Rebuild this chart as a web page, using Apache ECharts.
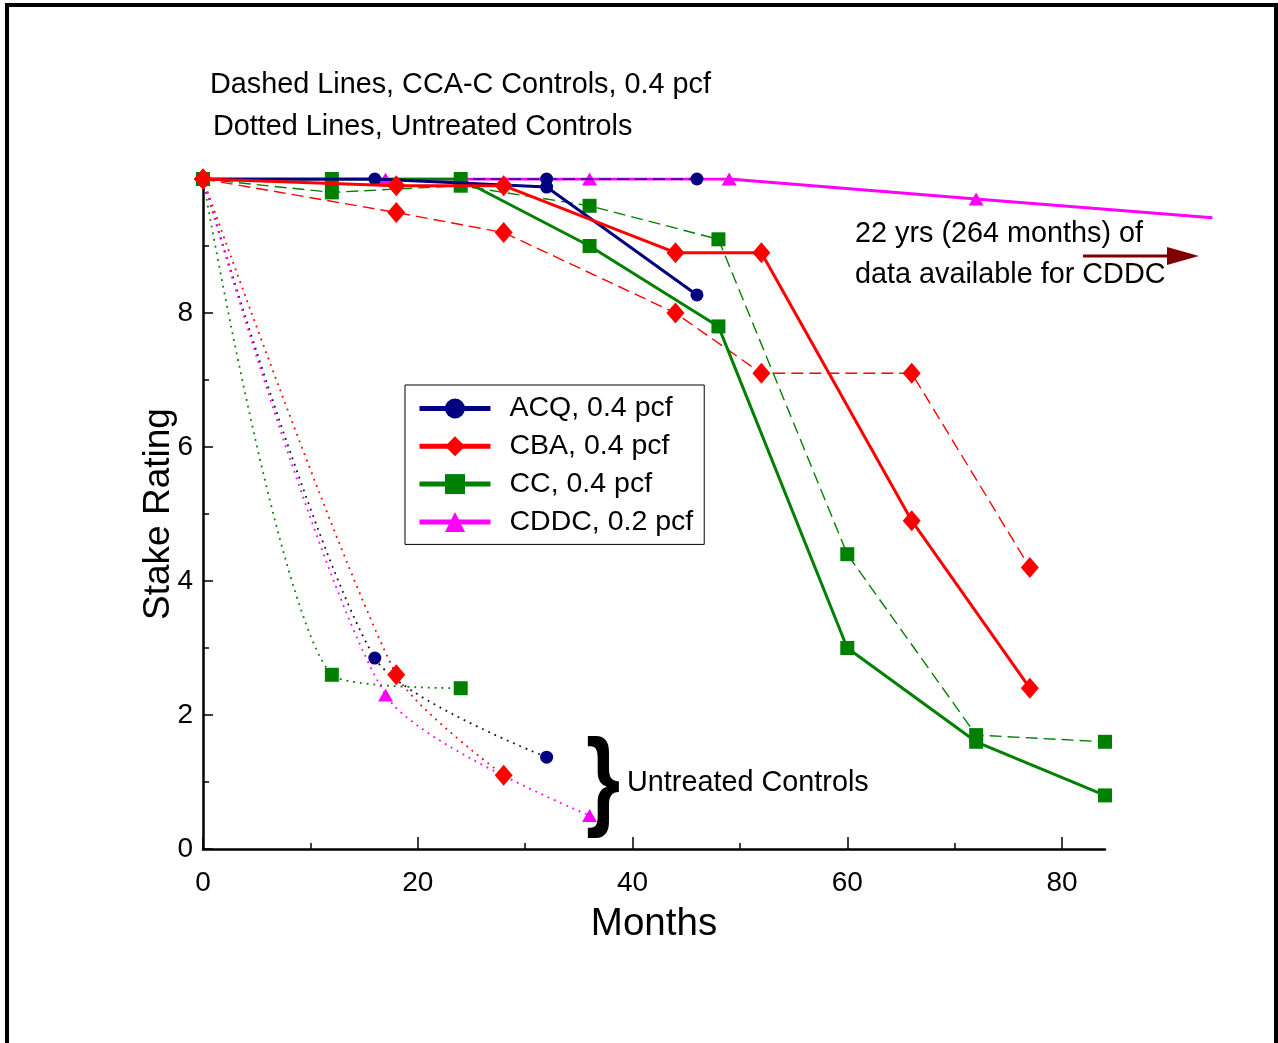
<!DOCTYPE html>
<html>
<head>
<meta charset="utf-8">
<script src="https://cdn.jsdelivr.net/npm/echarts@6/dist/echarts.min.js"></script>
<style>
html,body{margin:0;padding:0;background:#fff;}
#chart{width:1278px;height:1043px;}
</style>
</head>
<body>
<div id="chart"></div>
<script>
// ---- Data (months, stake rating) ----
const acqMonths = [0, 16, 32, 46];
const acqRating = [10, 10, 9.88, 8.27];
const acqCtrlMonths = [0, 32, 46];
const acqCtrlRating = [10, 10, 10];
const acqUntMonths = [0, 16, 32];
const acqUntRating = [10, 2.85, 1.37];

const cbaMonths = [0, 18, 28, 44, 52, 66, 77];
const cbaRating = [10, 9.9, 9.9, 8.9, 8.9, 4.9, 2.4];
const cbaCtrlMonths = [0, 18, 28, 44, 52, 66, 77];
const cbaCtrlRating = [10, 9.5, 9.2, 8.0, 7.1, 7.1, 4.2];
const cbaUntMonths = [0, 18, 28];
const cbaUntRating = [10, 2.6, 1.1];

const ccMonths = [0, 12, 24, 36, 48, 60, 72, 84];
const ccRating = [10, 10, 10, 9.0, 7.8, 3.0, 1.6, 0.8];
const ccCtrlMonths = [0, 12, 24, 36, 48, 60, 72, 84];
const ccCtrlRating = [10, 9.8, 9.9, 9.6, 9.1, 4.4, 1.7, 1.6];
const ccUntMonths = [0, 12, 24];
const ccUntRating = [10, 2.6, 2.4];

const cddcMonths = [0, 17, 36, 49, 72, 94];
const cddcRating = [10, 10, 10, 10, 9.7, 9.42];
const cddcUntMonths = [0, 17, 36];
const cddcUntRating = [10, 2.3, 0.5];

const seriesNames = ['ACQ, 0.4 pcf', 'CBA, 0.4 pcf', 'CC, 0.4 pcf', 'CDDC, 0.2 pcf'];
const xTickLabels = [0, 20, 40, 60, 80];
const xMinorTicks = [10, 30, 50, 70];
const yTickLabels = [0, 2, 4, 6, 8];

// ---- Layout / styles ----
const X_MAX = 84, X_MAX_EXT = 94;
const GRID_LEFT = 203, GRID_W = 902;
const NAVY = '#000080', RED = '#ff0000', GREEN = '#008000', MAG = '#ff00ff';
const FONT = '"Liberation Sans", Arial, Helvetica, sans-serif';
const zip = (xs, ys) => xs.map((x, i) => [x, ys[i]]);

const sym = {
  circle: { symbol: 'circle', symbolSize: 13 },
  diamond: { symbol: 'diamond', symbolSize: [18, 21] },
  rect: { symbol: 'rect', symbolSize: 14 },
  triangle: { symbol: 'triangle', symbolSize: [15, 13] }
};

function mk(name, data, color, s, kind, z, extra) {
  const lineStyle = { color: color };
  if (kind === 'solid') { lineStyle.width = 3; lineStyle.type = 'solid'; }
  if (kind === 'dashed') { lineStyle.width = 1.4; lineStyle.type = [12, 6]; }
  if (kind === 'dotted') { lineStyle.width = 1.8; lineStyle.type = [1.8, 5]; }
  return Object.assign({
    type: 'line', name: name, data: data,
    symbol: s.symbol, symbolSize: s.symbolSize,
    showAllSymbol: true,
    itemStyle: { color: color },
    lineStyle: lineStyle,
    z: z, animation: false, silent: true
  }, extra || {});
}

const cddcData = zip(cddcMonths, cddcRating).map((p, i, arr) =>
  i === arr.length - 1 ? { value: p, symbol: 'none' } : p);

const series = [
  // untreated (dotted)
  mk('ACQ untreated', zip(acqUntMonths, acqUntRating), NAVY, sym.circle, 'dotted', 2, { smooth: 0.25, lineStyle: { color: '#101030', width: 1.8, type: [1.8, 5] } }),
  mk('CBA untreated', zip(cbaUntMonths, cbaUntRating), RED, sym.diamond, 'dotted', 2, { smooth: 0.25 }),
  mk('CC untreated', zip(ccUntMonths, ccUntRating), GREEN, sym.rect, 'dotted', 2, { smooth: 0.25 }),
  mk('CDDC untreated', zip(cddcUntMonths, cddcUntRating), MAG, sym.triangle, 'dotted', 2, { smooth: 0.25 }),
  // CCA-C controls (dashed)
  mk('CC control', zip(ccCtrlMonths, ccCtrlRating), GREEN, sym.rect, 'dashed', 3),
  mk('CBA control', zip(cbaCtrlMonths, cbaCtrlRating), RED, sym.diamond, 'dashed', 3),
  // solid (CDDC drawn on an extended, hidden axis so it runs past the axis end)
  mk(seriesNames[3], cddcData, MAG, sym.triangle, 'solid', 4, { xAxisIndex: 2, yAxisIndex: 1 }),
  mk('ACQ control', zip(acqCtrlMonths, acqCtrlRating), NAVY, sym.circle, 'dashed', 5),
  mk(seriesNames[2], zip(ccMonths, ccRating), GREEN, sym.rect, 'solid', 5),
  mk(seriesNames[0], zip(acqMonths, acqRating), NAVY, sym.circle, 'solid', 6),
  mk(seriesNames[1], zip(cbaMonths, cbaRating), RED, sym.diamond, 'solid', 7)
];

const chart = echarts.init(document.getElementById('chart'), null, { renderer: 'canvas' });
chart.setOption({
  backgroundColor: '#fff',
  animation: false,
  textStyle: { fontFamily: FONT },
  grid: [
    { left: GRID_LEFT, top: 179, width: GRID_W, bottom: 194, containLabel: false },
    { left: GRID_LEFT, top: 179, width: GRID_W * X_MAX_EXT / X_MAX, bottom: 194, containLabel: false }
  ],
  legend: {
    data: seriesNames,
    orient: 'vertical',
    left: 405, top: 385,
    padding: [9, 11, 8, 12],
    itemGap: 8.8,
    itemWidth: 71, itemHeight: 25,
    borderColor: '#000', borderWidth: 1,
    backgroundColor: '#fff',
    lineStyle: { width: 5 },
    textStyle: { fontSize: 28.5, color: '#000', fontFamily: FONT, padding: [0, 0, 0, 14], lineHeight: 28 },
    selectedMode: false
  },
  xAxis: [{
    type: 'value', min: 0, max: X_MAX, interval: 20, gridIndex: 0,
    name: 'Months', nameLocation: 'middle', nameGap: 56, nameMoveOverlap: false,
    nameTextStyle: { fontSize: 38.5, color: '#000', fontFamily: FONT },
    axisLine: { show: true, onZero: false, lineStyle: { color: '#000', width: 2.5 } },
    axisTick: { show: true, inside: true, length: 12, customValues: xTickLabels, lineStyle: { color: '#000', width: 1.5 } },
    axisLabel: { customValues: xTickLabels, fontSize: 28, color: '#000', margin: 20, fontFamily: FONT },
    splitLine: { show: false }
  }, {
    type: 'value', min: 0, max: X_MAX, position: 'bottom', gridIndex: 0,
    axisLine: { show: false },
    axisTick: { show: true, inside: true, length: 6, customValues: xMinorTicks, lineStyle: { color: '#000', width: 1.5 } },
    axisLabel: { show: false },
    splitLine: { show: false }
  }, {
    type: 'value', min: 0, max: X_MAX_EXT, gridIndex: 1, show: false
  }],
  yAxis: [{
    type: 'value', min: 0, max: 10, interval: 2, gridIndex: 0,
    name: 'Stake Rating', nameLocation: 'middle', nameGap: 26, nameMoveOverlap: false,
    nameTextStyle: { fontSize: 37, color: '#000', fontFamily: FONT },
    axisLine: { show: true, onZero: false, lineStyle: { color: '#000', width: 2.5 } },
    axisTick: { show: true, inside: true, length: 10, lineStyle: { color: '#000', width: 1.5 } },
    minorTick: { show: true, splitNumber: 2, length: 6, lineStyle: { color: '#000', width: 1.5 } },
    axisLabel: { customValues: yTickLabels, fontSize: 28, color: '#000', margin: 10, fontFamily: FONT, padding: [8, 0, 0, 0] },
    splitLine: { show: false }, minorSplitLine: { show: false }
  }, {
    type: 'value', min: 0, max: 10, gridIndex: 1, show: false
  }],
  graphic: [
    { type: 'rect', shape: { x: 7, y: 5, width: 1269, height: 1100 }, style: { fill: 'none', stroke: '#000', lineWidth: 4 }, silent: true, z: 100 },
    { type: 'text', x: 210, y: 85, style: { text: 'Dashed Lines, CCA-C Controls, 0.4 pcf', font: '28.8px ' + FONT, fill: '#000', verticalAlign: 'middle', align: 'left' } },
    { type: 'text', x: 213, y: 127, style: { text: 'Dotted Lines, Untreated Controls', font: '28.8px ' + FONT, fill: '#000', verticalAlign: 'middle', align: 'left' } },
    { type: 'text', x: 855, y: 234, style: { text: '22 yrs (264 months) of', font: '28.8px ' + FONT, fill: '#000', verticalAlign: 'middle', align: 'left' } },
    { type: 'text', x: 855, y: 275, style: { text: 'data available for CDDC', font: '28.8px ' + FONT, fill: '#000', verticalAlign: 'middle', align: 'left' } },
    { type: 'line', shape: { x1: 1083, y1: 256, x2: 1172, y2: 256 }, style: { stroke: '#800000', lineWidth: 3 }, z: 50 },
    { type: 'polygon', shape: { points: [[1167, 247], [1199, 256], [1167, 265]] }, style: { fill: '#800000' }, z: 50 },
    { type: 'text', x: 627, y: 783, style: { text: 'Untreated Controls', font: '28.8px ' + FONT, fill: '#000', verticalAlign: 'middle', align: 'left' } },
    { type: 'text', x: 603, y: 785, scaleX: 0.8, style: { text: '}', font: 'bold 110px ' + FONT, fill: '#000', verticalAlign: 'middle', align: 'center' } }
  ],
  series: series
});
</script>
</body>
</html>
